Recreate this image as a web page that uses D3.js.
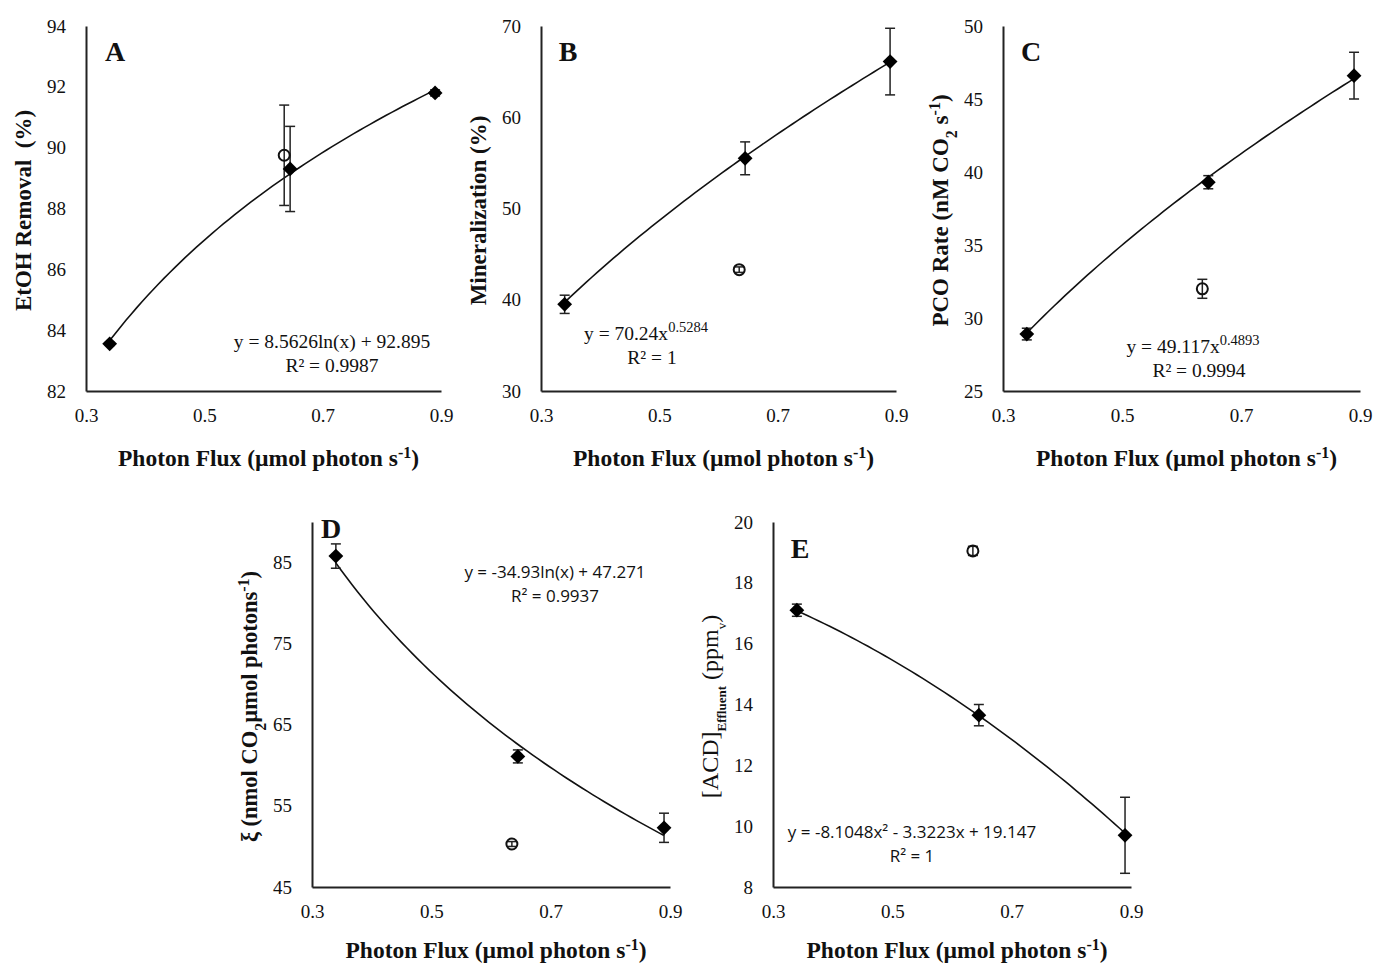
<!DOCTYPE html>
<html>
<head>
  <meta charset="utf-8">
  <script src="https://d3js.org/d3.v7.min.js"></script>
  <style>
    body { margin: 0; background: #fff; }
    svg text { fill: #111; }
  </style>
</head>
<body>
<script>
// ---- data ----
var photonFlux = [0.34, 0.645, 0.89];   // measured points (diamonds)
var refFlux = 0.635;                     // reference point (open circle)
var xTicks = [0.3, 0.5, 0.7, 0.9];

var etohRemoval = [83.55, 89.3, 91.8];
var etohErr = [0.05, 1.4, 0.1];
var etohRef = 89.75, etohRefErr = 1.65;

var mineralization = [39.5, 55.5, 66.1];
var mineralErr = [1.0, 1.8, 3.65];
var mineralRef = 43.3, mineralRefErr = 0.3;

var pcoRate = [28.9, 39.3, 46.6];
var pcoErr = [0.4, 0.45, 1.6];
var pcoRef = 32.0, pcoRefErr = 0.65;

var xi = [85.8, 61.1, 52.3];
var xiErr = [1.5, 0.8, 1.8];
var xiRef = 50.3, xiRefErr = 0.3;

var acd = [17.1, 13.65, 9.7];
var acdErr = [0.2, 0.35, 1.25];
var acdRef = 19.05, acdRefErr = 0.15;

// trendline coefficients, as printed on each panel
var fitA = [8.5626, 92.895];          // y = a ln(x) + b
var fitB = [70.24, 0.5284];           // y = a x^b
var fitC = [49.117, 0.4893];          // y = a x^b
var fitD = [-34.93, 47.271];          // y = a ln(x) + b
var fitE = [-8.1048, -3.3223, 19.147];// y = a x^2 + b x + c

var W = 1376, H = 969;
var svg = d3.select("body").append("svg").attr("width", W).attr("height", H);

var serif = "'Liberation Serif', 'Times New Roman', serif";
var sans = "'Open Sans', 'Liberation Sans', sans-serif";

var panels = [
  {letter: "A", box: [86, 26, 441, 391], yDom: [82, 94], yTicks: d3.range(82, 95, 2),
   vals: etohRemoval, err: etohErr, ref: etohRef, refErr: etohRefErr,
   fit: function (x) { return fitA[0] * Math.log(x) + fitA[1]; },
   eq: ["y = 8.5626ln(x) + 92.895", "R\u00b2 = 0.9987"], eqPos: [332, 348], eqFont: serif, eqSize: 19.5,
   letterPos: [115, 55], xtOff: 75},
  {letter: "B", box: [541, 26, 896, 391], yDom: [30, 70], yTicks: d3.range(30, 71, 10),
   vals: mineralization, err: mineralErr, ref: mineralRef, refErr: mineralRefErr,
   fit: function (x) { return fitB[0] * Math.pow(x, fitB[1]); },
   eq: ["y = 70.24x", "R\u00b2 = 1"], eqSup: "0.5284", eqPos: [646, 340], eqFont: serif, eqSize: 19.5,
   letterPos: [568, 55], xtOff: 75},
  {letter: "C", box: [1003, 26, 1360, 391], yDom: [25, 50], yTicks: d3.range(25, 51, 5),
   vals: pcoRate, err: pcoErr, ref: pcoRef, refErr: pcoRefErr,
   fit: function (x) { return fitC[0] * Math.pow(x, fitC[1]); },
   eq: ["y = 49.117x", "R\u00b2 = 0.9994"], eqSup: "0.4893", eqPos: [1193, 353], eqFont: serif, eqSize: 19.5,
   letterPos: [1031, 55], xtOff: 75},
  {letter: "D", box: [312, 522, 670, 887], yDom: [45, 90], yTicks: d3.range(45, 86, 10),
   vals: xi, err: xiErr, ref: xiRef, refErr: xiRefErr,
   fit: function (x) { return fitD[0] * Math.log(x) + fitD[1]; },
   eq: ["y = -34.93ln(x) + 47.271", "R\u00b2 = 0.9937"], eqPos: [555, 578], eqFont: sans, eqSize: 17,
   letterPos: [331, 532], xtOff: 71},
  {letter: "E", box: [773, 522, 1131, 887], yDom: [8, 20], yTicks: d3.range(8, 21, 2),
   vals: acd, err: acdErr, ref: acdRef, refErr: acdRefErr,
   fit: function (x) { return fitE[0] * x * x + fitE[1] * x + fitE[2]; },
   eq: ["y = -8.1048x\u00b2 - 3.3223x + 19.147", "R\u00b2 = 1"], eqPos: [912, 838], eqFont: sans, eqSize: 17,
   letterPos: [800, 552], xtOff: 71}
];

function yTitle(g, letter, cx, cy) {
  var t = g.append("text")
    .attr("transform", "translate(" + cx + "," + cy + ") rotate(-90)")
    .attr("text-anchor", "middle")
    .attr("font-family", serif).attr("font-size", 23);
  if (letter === "A") {
    t.attr("font-weight", "bold").text("EtOH Removal\u00a0 (%)");
  } else if (letter === "B") {
    t.attr("font-weight", "bold").text("Mineralization (%)");
  } else if (letter === "C") {
    t.attr("font-weight", "bold");
    t.append("tspan").text("PCO Rate (nM CO");
    t.append("tspan").attr("baseline-shift", "sub").attr("font-size", 16).text("2");
    t.append("tspan").text(" s");
    t.append("tspan").attr("baseline-shift", "super").attr("font-size", 16).text("-1");
    t.append("tspan").text(")");
  } else if (letter === "D") {
    t.attr("font-weight", "bold").attr("font-size", 22.5);
    t.append("tspan").text("\u03be (nmol CO");
    t.append("tspan").attr("baseline-shift", "sub").attr("font-size", 16).text("2");
    t.append("tspan").text("\u00b5mol photons");
    t.append("tspan").attr("baseline-shift", "super").attr("font-size", 16).text("-1");
    t.append("tspan").text(")");
  } else {
    t.attr("font-size", 24);
    t.append("tspan").text("[ACD]");
    t.append("tspan").attr("baseline-shift", "sub").attr("font-size", 13).attr("font-weight", "bold").text("Effluent");
    t.append("tspan").text(" (ppm");
    t.append("tspan").attr("baseline-shift", "sub").attr("font-size", 13).text("v");
    t.append("tspan").text(")");
  }
}

panels.forEach(function (p) {
  var x0 = p.box[0], y0 = p.box[1], x1 = p.box[2], y1 = p.box[3];
  var x = d3.scaleLinear().domain([0.3, 0.9]).range([x0, x1]);
  var y = d3.scaleLinear().domain(p.yDom).range([y1, y0]);
  var g = svg.append("g");

  // axes, no tick marks
  var xAxis = g.append("g").attr("transform", "translate(0," + y1 + ")")
    .call(d3.axisBottom(x).tickValues(xTicks).tickFormat(d3.format(".1f")).tickSize(0).tickPadding(18));
  var yAxis = g.append("g").attr("transform", "translate(" + x0 + ",0)")
    .call(d3.axisLeft(y).tickValues(p.yTicks).tickSize(0).tickPadding(20));
  [xAxis, yAxis].forEach(function (a) {
    a.select(".domain").attr("stroke", "#222").attr("stroke-width", 2);
    a.selectAll("text").attr("font-family", serif).attr("font-size", 19).attr("fill", "#111");
  });

  // trendline from printed equation
  var xs = d3.range(0, 61).map(function (i) { return photonFlux[0] + (photonFlux[2] - photonFlux[0]) * i / 60; });
  g.append("path")
    .attr("d", d3.line().x(function (d) { return x(d); }).y(function (d) { return y(p.fit(d)); })(xs))
    .attr("fill", "none").attr("stroke", "#111").attr("stroke-width", 1.6);

  // error bars
  function errBar(xv, yv, e) {
    var cx = x(xv);
    g.append("line").attr("x1", cx).attr("x2", cx).attr("y1", y(yv - e)).attr("y2", y(yv + e))
      .attr("stroke", "#222").attr("stroke-width", 1.5);
    [yv - e, yv + e].forEach(function (v) {
      g.append("line").attr("x1", cx - 5).attr("x2", cx + 5).attr("y1", y(v)).attr("y2", y(v))
        .attr("stroke", "#222").attr("stroke-width", 1.5);
    });
  }
  photonFlux.forEach(function (f, i) { errBar(f, p.vals[i], p.err[i]); });
  errBar(refFlux, p.ref, p.refErr);

  // diamonds
  g.selectAll("path.pt").data(photonFlux).enter().append("path")
    .attr("class", "pt")
    .attr("d", d3.symbol().type(d3.symbolDiamond2).size(140))
    .attr("transform", function (d, i) { return "translate(" + x(d) + "," + y(p.vals[i]) + ")"; })
    .attr("fill", "#000");

  // open circle
  g.append("circle").attr("cx", x(refFlux)).attr("cy", y(p.ref)).attr("r", 5.5)
    .attr("fill", "none").attr("stroke", "#111").attr("stroke-width", 2);

  // panel letter
  g.append("text").attr("x", p.letterPos[0]).attr("y", p.letterPos[1])
    .attr("text-anchor", "middle").attr("dominant-baseline", "middle")
    .attr("font-family", serif).attr("font-weight", "bold").attr("font-size", 28).text(p.letter);

  // equation
  var eq = g.append("text").attr("x", p.eqPos[0]).attr("y", p.eqPos[1])
    .attr("text-anchor", "middle").attr("font-family", p.eqFont).attr("font-size", p.eqSize);
  eq.append("tspan").text(p.eq[0]);
  if (p.eqSup) eq.append("tspan").attr("baseline-shift", "super").attr("font-size", p.eqSize - 5).text(p.eqSup);
  g.append("text").attr("x", p.eqPos[0] + (p.eqSup ? 6 : 0)).attr("y", p.eqPos[1] + 24)
    .attr("text-anchor", "middle").attr("font-family", p.eqFont).attr("font-size", p.eqSize).text(p.eq[1]);

  // axis titles
  var xt = g.append("text").attr("x", (x0 + x1) / 2 + 5).attr("y", y1 + p.xtOff)
    .attr("text-anchor", "middle").attr("font-family", serif).attr("font-weight", "bold").attr("font-size", 23.5);
  xt.append("tspan").text("Photon Flux (\u00b5mol photon s");
  xt.append("tspan").attr("baseline-shift", "super").attr("font-size", 16).text("-1");
  xt.append("tspan").text(")");

  yTitle(g, p.letter, x0 - 55, (y0 + y1) / 2 + 2);
});
</script>
</body>
</html>
